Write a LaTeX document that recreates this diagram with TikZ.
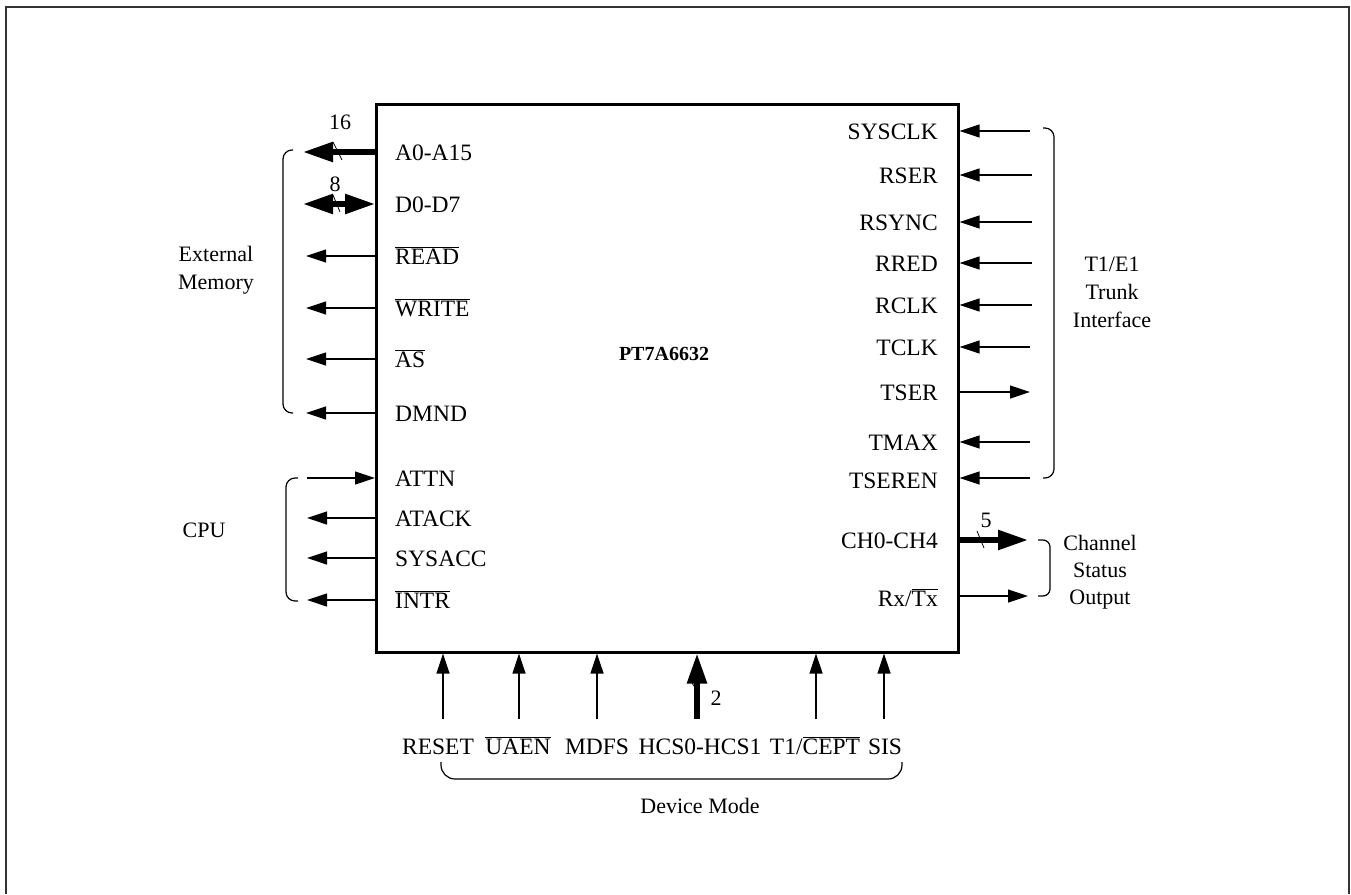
\documentclass[tikz,border=0pt]{standalone}
\usepackage{fontspec}
\setmainfont{Liberation Serif}
\usetikzlibrary{arrows.meta}
\newcommand{\olx}[1]{\ensuremath{\overline{\mbox{#1}}}}
\begin{document}
\begin{tikzpicture}[x=1pt,y=-1pt,
  font=\fontsize{22}{28}\selectfont,
  thinarr/.style={line width=1.2pt, -{Triangle[length=20pt,width=13pt]}},
  thickarr/.style={line width=5.5pt, -{Triangle[length=30pt,width=19pt]}},
  dblarr/.style={line width=5.5pt, {Triangle[length=30pt,width=19pt]}-{Triangle[length=30pt,width=19pt]}},
  pinfont/.style={font=\fontsize{23.5}{28}\selectfont},
  pinl/.style={pinfont, anchor=base west, inner sep=0pt},
  pinr/.style={pinfont, anchor=base east, inner sep=0pt},
  pinb/.style={pinfont, anchor=base, inner sep=0pt},
  grp/.style={align=center, inner sep=0pt},
  brk/.style={line width=1.2pt, rounded corners=9pt},
  tick/.style={line width=0.8pt}]

\useasboundingbox (0,0) rectangle (1351,894);
\draw[line width=2pt, black!80] (6,894) -- (6,7) -- (1349,7) -- (1349,894);

\node[draw, line width=2.5pt, minimum width=582pt, minimum height=548pt, inner sep=0pt, anchor=north west] (chip) at (375,103) {};
\node[font=\fontsize{20}{26}\selectfont\bfseries] (name) at (664,354) {PT7A6632};

% left pins
\node[pinl] (a)  at (395,160) {A0-A15};
\node[pinl] (d)  at (395,212) {D0-D7};
\node[pinl] (rd) at (395,264) {\olx{READ}};
\node[pinl] (wr) at (395,316) {\olx{WRITE}};
\node[pinl] (as) at (395,367) {\olx{AS}};
\node[pinl] (dm) at (395,421) {DMND};
\node[pinl] (attn) at (395,486) {ATTN};
\node[pinl] (atack) at (395,526) {ATACK};
\node[pinl] (sysacc) at (395,566) {SYSACC};
\node[pinl] (intr) at (395,608) {\olx{INTR}};

\coordinate (aE) at (303,152);
\coordinate (dE) at (303,204);
\coordinate (rdE) at (306,256);
\coordinate (wrE) at (306,308);
\coordinate (asE) at (306,359);
\coordinate (dmE) at (306,413);
\coordinate (attnE) at (307,478);
\coordinate (atackE) at (307,518);
\coordinate (sysaccE) at (307,558);
\coordinate (intrE) at (307,600);

\draw[thickarr] (chip.west |- aE) -- (aE);
\draw[dblarr] (chip.west |- dE) -- (dE);
\draw[thinarr] (chip.west |- rdE) -- (rdE);
\draw[thinarr] (chip.west |- wrE) -- (wrE);
\draw[thinarr] (chip.west |- asE) -- (asE);
\draw[thinarr] (chip.west |- dmE) -- (dmE);
\draw[thinarr] (attnE) -- (chip.west |- attnE);
\draw[thinarr] (chip.west |- atackE) -- (atackE);
\draw[thinarr] (chip.west |- sysaccE) -- (sysaccE);
\draw[thinarr] (chip.west |- intrE) -- (intrE);

\draw[tick] (333,142) -- (342,160);
\draw[tick] (333,195) -- (340,212);
\node (n16) at (340,122) {16};
\node (n8) at (335,184) {8};

% right pins
\node[pinr] (sysclk) at (938,139) {SYSCLK};
\node[pinr] (rser)   at (938,183) {RSER};
\node[pinr] (rsync)  at (938,230) {RSYNC};
\node[pinr] (rred)   at (938,271) {RRED};
\node[pinr] (rclk)   at (938,313) {RCLK};
\node[pinr] (tclk)   at (938,355) {TCLK};
\node[pinr] (tser)   at (938,400) {TSER};
\node[pinr] (tmax)   at (938,450) {TMAX};
\node[pinr] (tseren) at (938,488) {TSEREN};
\node[pinr] (ch)     at (938,548) {CH0-CH4};
\node[pinr] (rxtx)   at (938,606) {Rx/\olx{Tx}};

\coordinate (sysclkE) at (1030,131);
\coordinate (rserE) at (1032,175);
\coordinate (rsyncE) at (1032,222);
\coordinate (rredE) at (1032,263);
\coordinate (rclkE) at (1032,305);
\coordinate (tclkE) at (1030,347);
\coordinate (tserE) at (1030,392);
\coordinate (tmaxE) at (1030,442);
\coordinate (tserenE) at (1030,478);
\coordinate (chE) at (1028,540);
\coordinate (rxtxE) at (1028,596);

\draw[thinarr] (sysclkE) -- (chip.east |- sysclkE);
\draw[thinarr] (rserE) -- (chip.east |- rserE);
\draw[thinarr] (rsyncE) -- (chip.east |- rsyncE);
\draw[thinarr] (rredE) -- (chip.east |- rredE);
\draw[thinarr] (rclkE) -- (chip.east |- rclkE);
\draw[thinarr] (tclkE) -- (chip.east |- tclkE);
\draw[thinarr] (chip.east |- tserE) -- (tserE);
\draw[thinarr] (tmaxE) -- (chip.east |- tmaxE);
\draw[thinarr] (tserenE) -- (chip.east |- tserenE);
\draw[thickarr] (chip.east |- chE) -- (chE);
\draw[thinarr] (chip.east |- rxtxE) -- (rxtxE);

\draw[tick] (977,531) -- (984,548);
\node (n5) at (986,520) {5};

% bottom pins
\node[pinb] (reset) at (438,754) {RESET};
\node[pinb] (uaen)  at (518,754) {\olx{UAEN}};
\node[pinb] (mdfs)  at (597,754) {MDFS};
\node[pinb] (hcs)   at (700,754) {HCS0-HCS1};
\node[pinb] (tcept) at (815,754) {T1/\olx{CEPT}};
\node[pinb] (sis)   at (885,754) {SIS};

\coordinate (resetE) at (443,719);
\coordinate (uaenE) at (519,719);
\coordinate (mdfsE) at (597,719);
\coordinate (hcsE) at (697,719);
\coordinate (tceptE) at (816,719);
\coordinate (sisE) at (884,719);

\draw[thinarr] (resetE) -- (chip.south -| resetE);
\draw[thinarr] (uaenE) -- (chip.south -| uaenE);
\draw[thinarr] (mdfsE) -- (chip.south -| mdfsE);
\draw[thickarr] (hcsE) -- (chip.south -| hcsE);
\draw[thinarr] (tceptE) -- (chip.south -| tceptE);
\draw[thinarr] (sisE) -- (chip.south -| sisE);

\draw[tick] (690,680) -- (698,692);
\node (n2) at (716,698) {2};

% group brackets
\draw[brk] (293,150) -- (283,150) -- (283,413) -- (293,413);
\node[grp] (extmem) at (216,270) {External\\Memory};

\draw[brk] (298,478) -- (286,478) -- (286,601) -- (298,601);
\node[grp] (cpu) at (204,530) {CPU};

\draw[brk] (1043,128) -- (1054,128) -- (1054,478) -- (1043,478);
\node[grp] (trunk) at (1112,292) {T1/E1\\Trunk\\Interface};

\draw[brk, rounded corners=7pt] (1038,540) -- (1050,540) -- (1050,596) -- (1038,596);
\node[grp, font=\fontsize{22}{27}\selectfont] (chst) at (1100,572) {Channel\\Status\\Output};

\draw[brk, rounded corners=14pt] (441,762) -- (441,779) -- (902,779) -- (902,762);
\node (devmode) at (700,806) {Device Mode};
\end{tikzpicture}
\end{document}
